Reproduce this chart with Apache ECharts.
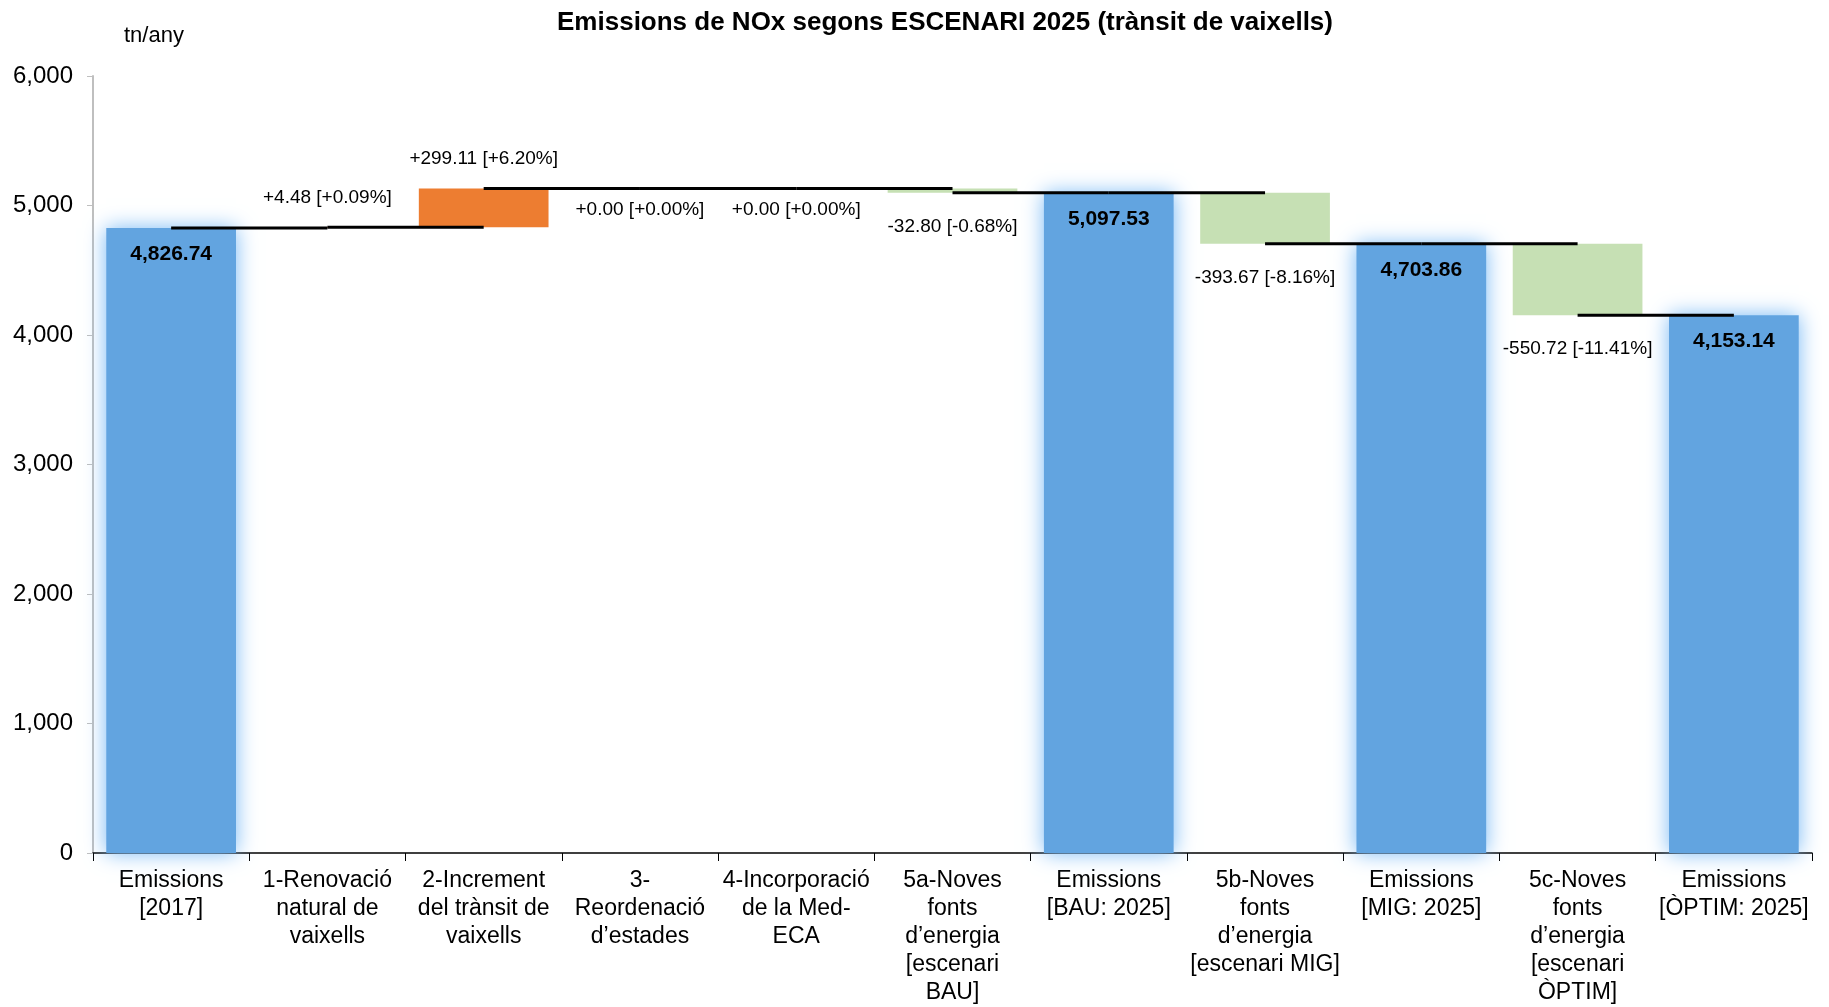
<!DOCTYPE html>
<html>
<head>
<meta charset="utf-8">
<script src="https://cdn.jsdelivr.net/npm/echarts@6/dist/echarts.min.js"></script>
<style>
  html, body { margin: 0; background: #fff; }
  #chart { width: 1829px; height: 1007px; }
</style>
</head>
<body>
<div id="chart"></div>
<script>
// categories (eix X)
const categories = [
  'Emissions\n[2017]',
  '1-Renovació\nnatural de\nvaixells',
  '2-Increment\ndel trànsit de\nvaixells',
  '3-\nReordenació\nd’estades',
  '4-Incorporació\nde la Med-\nECA',
  '5a-Noves\nfonts\nd’energia\n[escenari\nBAU]',
  'Emissions\n[BAU: 2025]',
  '5b-Noves\nfonts\nd’energia\n[escenari MIG]',
  'Emissions\n[MIG: 2025]',
  '5c-Noves\nfonts\nd’energia\n[escenari\nÒPTIM]',
  'Emissions\n[ÒPTIM: 2025]'
]
// totals and changes, tn/any
const values = [4826.74, 4.48, 299.11, 0.00, 0.00, -32.80, 5097.53, -393.67, 4703.86, -550.72, 4153.14]
const isTotal = [true, false, false, false, false, false, true, false, true, false, true]
// eix Y
const yMin = 0
const yMax = 6000
const yStep = 1000

const BLUE = '#62A4E0'
const ORANGE = '#ED7D31'
const GREEN = '#C6E0B4'

function fmt(v) {
  return v.toLocaleString('en-US', { minimumFractionDigits: 2, maximumFractionDigits: 2 })
}

// waterfall: invisible base + visible piece
const baseVals = []
const barVals = []
const endVals = []
let level = 0
values.forEach((v, i) => {
  if (isTotal[i]) {
    baseVals.push(0)
    barVals.push(v)
    level = v
  } else {
    const next = level + v
    baseVals.push(Math.min(level, next))
    barVals.push(Math.abs(v))
    level = next
  }
  endVals.push(level)
})

const barData = barVals.map((h, i) => {
  const v = values[i]
  if (isTotal[i]) {
    return {
      value: h,
      itemStyle: { color: BLUE, shadowBlur: 20, shadowColor: 'rgba(120,185,245,1)' },
      label: {
        show: true, position: 'insideTop', distance: 16,
        fontSize: 21, fontWeight: 'bold', color: '#000',
        formatter: fmt(v)
      }
    }
  }
  const pct = v / values[0] * 100
  const sign = v < 0 ? '-' : '+'
  const txt = sign + Math.abs(v).toFixed(2) + ' [' + sign + Math.abs(pct).toFixed(2) + '%]'
  return {
    value: h,
    itemStyle: { color: v > 0 ? ORANGE : GREEN },
    label: {
      show: true,
      position: v > 0 ? 'top' : 'bottom',
      distance: v > 0 ? 20 : (v === 0 ? 12 : 24),
      fontSize: 19, color: '#000',
      formatter: txt
    }
  }
})

// connectors: from centre of bar i to centre of bar i+1 at end level of i
const connectorData = endVals.slice(0, -1).map((lv, i) => [i, lv])

const chart = echarts.init(document.getElementById('chart'))
chart.setOption({
  animation: false,
  title: [
    {
      text: 'Emissions de NOx segons ESCENARI 2025 (trànsit de vaixells)',
      left: 940, top: 5, textAlign: 'center',
      textStyle: { fontFamily: 'Liberation Sans', fontSize: 26, fontWeight: 'bold', color: '#000' }
    },
    {
      text: 'tn/any',
      left: 119, top: 20,
      textStyle: { fontFamily: 'Liberation Sans', fontSize: 22, fontWeight: 'normal', color: '#000' }
    }
  ],
  textStyle: { fontFamily: 'Liberation Sans' },
  grid: { left: 93, right: 17, top: 76, bottom: 153 },
  xAxis: {
    type: 'category',
    data: categories,
    axisLine: { lineStyle: { color: '#000', width: 1.5 } },
    axisTick: { show: true, length: 8, interval: 0, lineStyle: { color: '#000' } },
    axisLabel: { interval: 0, fontSize: 23, lineHeight: 28, margin: 14, color: '#000' }
  },
  yAxis: {
    type: 'value',
    min: yMin, max: yMax, interval: yStep,
    axisLine: { show: true, lineStyle: { color: '#BFBFBF', width: 2 } },
    axisTick: { show: true, length: 6, lineStyle: { color: '#BFBFBF' } },
    splitLine: { show: false },
    axisLabel: {
      fontSize: 24, margin: 20, color: '#000',
      formatter: v => v.toLocaleString('en-US')
    }
  },
  series: [
    {
      type: 'bar',
      stack: 'wf',
      barCategoryGap: '17%',
      itemStyle: { color: 'transparent' },
      emphasis: { disabled: true },
      data: baseVals
    },
    {
      type: 'bar',
      stack: 'wf',
      barCategoryGap: '17%',
      emphasis: { disabled: true },
      data: barData
    },
    {
      type: 'custom',
      z: 5,
      encode: { x: 0, y: 1 },
      data: connectorData,
      renderItem(params, api) {
        const a = api.coord([api.value(0), api.value(1)])
        const b = api.coord([api.value(0) + 1, api.value(1)])
        return {
          type: 'line',
          shape: { x1: a[0], y1: a[1], x2: b[0], y2: b[1] },
          style: { stroke: '#000', lineWidth: 3 }
        }
      }
    }
  ]
})
</script>
</body>
</html>
